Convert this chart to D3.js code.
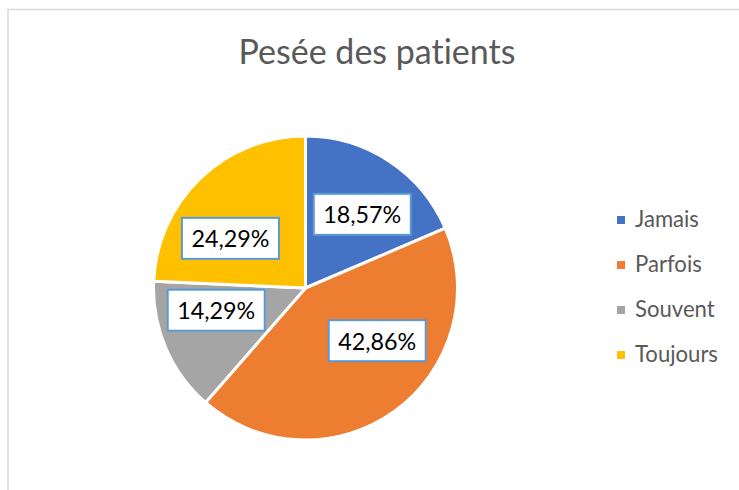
<!DOCTYPE html>
<html>
<head>
<meta charset="utf-8">
<script src="https://cdn.jsdelivr.net/npm/d3@7/dist/d3.min.js"></script>
<style>
  html, body { margin: 0; padding: 0; background: #fff; }
  svg { display: block; }
  text { font-variant-ligatures: none; font-feature-settings: "liga" 0, "clig" 0; }
</style>
</head>
<body>
<svg id="chart" width="739" height="490"></svg>
<script>
// ---- data ----
const title = "Pesée des patients";
const categories = ["Jamais", "Parfois", "Souvent", "Toujours"];
const values = [18.57, 42.86, 14.29, 24.29];
const labels = ["18,57%", "42,86%", "14,29%", "24,29%"];
const colors = ["#4472c4", "#ed7d31", "#a5a5a5", "#ffc000"];

// ---- layout ----
const W = 739, H = 490;
const cx = 305.5, cy = 288, R = 152;
const FONT = "Lato, 'Open Sans', 'Noto Sans', sans-serif";
const svg = d3.select("#chart");

svg.append("rect").attr("x", 8).attr("y", 9.5).attr("width", 900).attr("height", 700)
  .attr("fill", "#fff").attr("stroke", "#d9d9d9").attr("stroke-width", 1.5);

function fitText(sel, targetW) {
  const n = sel.node();
  const w = n.getComputedTextLength();
  const fs = parseFloat(sel.attr("font-size"));
  sel.attr("font-size", fs * targetW / w);
}

// title
const t = svg.append("text").attr("x", 377).attr("y", 64).attr("text-anchor", "middle")
  .attr("font-family", FONT).attr("font-size", 30).attr("fill", "#595959").text(title);
fitText(t, 277);

// pie
const pie = d3.pie().sort(null).value(d => d).startAngle(0).endAngle(2 * Math.PI);
const arcs = pie(values);
const arc = d3.arc().innerRadius(0).outerRadius(R);
const g = svg.append("g").attr("transform", `translate(${cx},${cy})`);
g.selectAll("path").data(arcs).join("path")
  .attr("d", arc).attr("fill", (d, i) => colors[i])
  .attr("stroke", "#fff").attr("stroke-width", 3).attr("stroke-linejoin", "round");

// data labels (best-fit style placement: angular nudge from slice middle)
const nudgeDeg = [4.2, -17.7, 9.2, -12.8];
const labR = [93, 89, 92, 90];
arcs.forEach((d, i) => {
  const a = (d.startAngle + d.endAngle) / 2 + nudgeDeg[i] * Math.PI / 180;
  const x = labR[i] * Math.sin(a), y = -labR[i] * Math.cos(a);
  const bw = 97, bh = 41;
  g.append("rect").attr("x", x - bw / 2).attr("y", y - bh / 2).attr("width", bw).attr("height", bh)
    .attr("fill", "#fff").attr("stroke", "#5b9bd5").attr("stroke-width", 2);
  const tx = g.append("text").attr("x", x).attr("y", y + 9).attr("text-anchor", "middle")
    .attr("font-family", FONT).attr("font-size", 25).attr("fill", "#000").text(labels[i]);
  fitText(tx, 78);
});

// legend
const ly = d3.scalePoint().domain(categories).range([220, 355]);
const lg = svg.append("g");
categories.forEach((c, i) => {
  lg.append("rect").attr("x", 617).attr("y", ly(c) - 4).attr("width", 8).attr("height", 8).attr("fill", colors[i]);
  const lt = lg.append("text").attr("x", 635).attr("y", ly(c) + 7).attr("font-family", FONT)
    .attr("font-size", 19).attr("fill", "#595959").text(c);
  if (c === "Toujours") fitText(lt, 83);
});
// keep legend font consistent with Toujours
const fsL = lg.selectAll("text").filter((d, i, n) => n[i].textContent === "Toujours").attr("font-size");
lg.selectAll("text").attr("font-size", fsL);
</script>
</body>
</html>
